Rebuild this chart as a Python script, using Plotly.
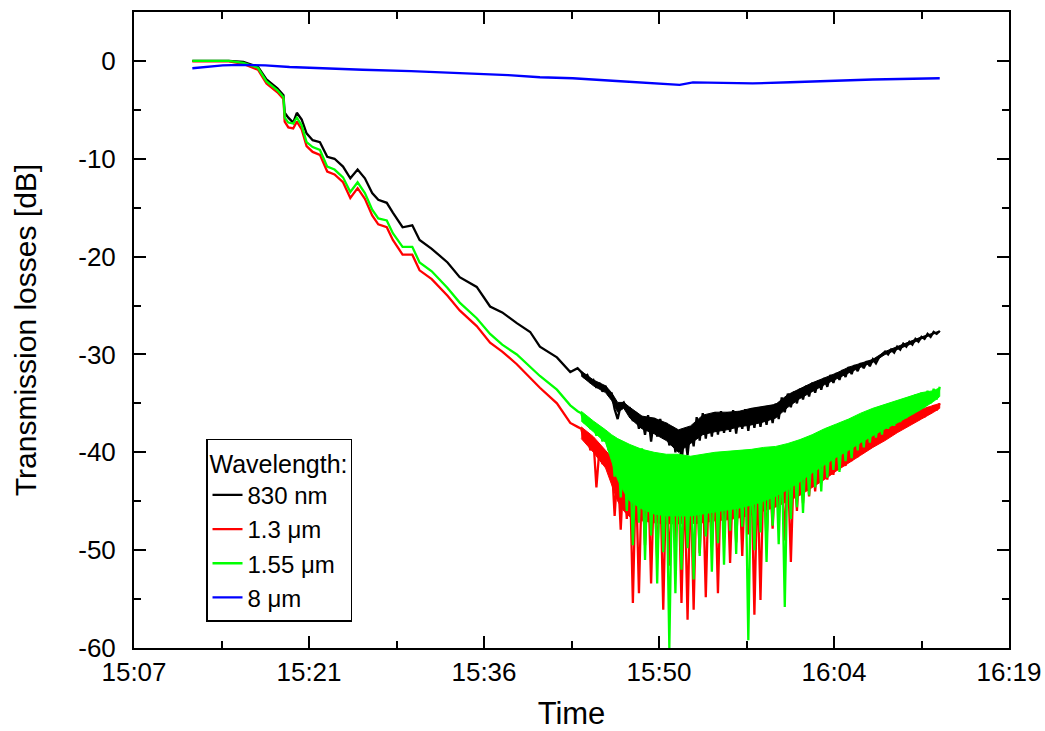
import plotly.graph_objects as go

# Time in minutes after 15:00
t_early = [12.0, 13.5, 15.0, 16.2, 17.4, 18.1, 19.0, 19.5, 19.6, 19.9, 20.3, 20.6, 21.0, 21.4,
           21.9, 22.5, 23.1, 23.7, 24.4, 25.0, 25.6, 26.2, 26.8, 27.3, 28.0, 28.5, 29.3, 30.1,
           30.7, 31.7, 33.0, 34.0, 35.4, 36.5, 37.5, 38.7, 39.8, 40.6, 42.0, 43.1, 43.7]

t_noisy = [44.0, 44.25, 44.5, 44.75, 45.0, 45.25, 45.5, 45.75, 46.0, 46.25, 46.5, 46.75,
           47.0, 47.25, 47.5, 47.75, 48.0, 48.25, 48.5, 48.75, 49.0, 49.25, 49.5, 49.75,
           50.0, 50.25, 50.5, 50.75, 51.0, 51.25, 51.5, 51.75, 52.0, 52.25, 52.5, 52.75,
           53.0, 53.25, 53.5, 53.75, 54.0, 54.25, 54.5, 54.75, 55.0, 55.25, 55.5, 55.75,
           56.0, 56.25, 56.5, 56.75, 57.0, 57.25, 57.5, 57.75, 58.0, 58.25, 58.5, 58.75,
           59.0, 59.25, 59.5, 59.75, 60.0, 60.25, 60.5, 60.75, 61.0, 61.25, 61.5, 61.75,
           62.0, 62.25, 62.5, 62.75, 63.0, 63.25, 63.5, 63.75, 64.0, 64.25, 64.5, 64.75,
           65.0, 65.25, 65.5, 65.75, 66.0, 66.25, 66.5, 66.75, 67.0, 67.25, 67.5, 67.75,
           68.0, 68.25, 68.5, 68.75, 69.0, 69.25, 69.5, 69.75, 70.0, 70.25, 70.5, 70.75,
           71.0, 71.25, 71.5, 71.75, 72.0, 72.25, 72.5, 72.75, 73.0, 73.25, 73.5]

# times of the noise-band envelopes
t_band = [44.0, 45.0, 46.0, 46.5, 47.0, 47.5, 48.0, 49.0, 50.0, 51.0, 52.0, 53.0, 54.0, 55.0,
          56.0, 57.0, 58.0, 59.0, 60.0, 61.0, 62.0, 63.0, 64.0, 65.0, 66.0, 67.0, 68.0, 69.0,
          70.0, 71.0, 72.0, 73.0, 73.5]

# 830 nm
black_early = [0.0, 0.0, 0.0, -0.1, -0.6, -1.9, -2.8, -3.5, -5.3, -5.8, -6.3, -5.3, -6.0, -7.4,
               -8.1, -8.3, -9.8, -10.0, -10.8, -12.0, -11.1, -12.0, -13.5, -14.2, -14.5, -15.5,
               -17.0, -16.8, -18.3, -19.2, -20.6, -22.1, -23.1, -25.1, -25.7, -26.8, -27.7,
               -29.2, -30.3, -31.8, -31.4]
black_noisy = [-31.8, -32.3, -32.1, -32.8, -32.6, -33.4, -32.9, -33.8, -33.2, -34.1, -34.0, -35.6,
               -36.6, -35.2, -34.9, -35.6, -35.5, -36.8, -35.9, -37.6, -36.4, -38.2, -36.2, -38.9,
               -36.5, -38.4, -36.6, -38.6, -37.0, -39.3, -37.4, -40.0, -37.9, -41.0, -38.0, -40.3,
               -37.4, -39.4, -36.4, -38.8, -36.0, -38.6, -36.1, -38.4, -35.9, -38.2, -35.8, -38.0,
               -35.9, -37.9, -35.7, -38.1, -35.8, -37.6, -35.6, -37.8, -35.5, -37.5, -35.4, -37.4,
               -35.3, -37.2, -35.2, -37.0, -35.0, -36.6, -34.4, -35.9, -34.0, -35.4, -33.8, -35.0,
               -33.5, -34.6, -33.2, -34.3, -32.9, -33.9, -32.7, -33.6, -32.4, -33.3, -32.1, -32.9,
               -31.9, -32.6, -31.6, -32.3, -31.3, -32.0, -31.1, -31.7, -30.9, -31.4, -30.7, -31.2,
               -30.5, -30.9, -30.3, -30.0, -29.7, -30.0, -29.5, -29.8, -29.2, -29.5, -28.9, -29.2,
               -28.7, -29.0, -28.4, -28.7, -28.2, -28.4, -27.9, -28.2, -27.7, -27.9, -27.6]
black_band_top = [-31.7, -32.6, -33.2, -33.9, -34.9, -34.9, -35.4, -36.3, -36.5, -37.0, -37.7,
                  -37.3, -36.2, -35.9, -35.9, -35.8, -35.5, -35.3, -35.1, -34.1, -33.5, -32.9,
                  -32.4, -31.9, -31.3, -30.9, -30.5, -29.7, -29.2, -28.7, -28.2, -27.8, -27.6]
black_band_bottom = [-32.2, -33.2, -33.9, -34.7, -35.9, -35.5, -36.5, -37.6, -38.1, -38.8, -40.0,
                     -39.1, -38.2, -37.9, -37.7, -37.4, -37.2, -36.9, -36.5, -35.4, -34.5, -33.8,
                     -33.1, -32.5, -31.9, -31.3, -30.8, -30.0, -29.5, -29.0, -28.4, -27.9, -27.7]

# 1.3 um
red_early = [-0.05, -0.05, -0.05, -0.3, -0.9, -2.3, -3.2, -3.9, -6.2, -6.8, -6.9, -6.2, -7.0, -8.7,
             -9.3, -9.6, -11.3, -11.6, -12.4, -14.0, -13.0, -14.1, -15.8, -16.7, -17.0, -18.3,
             -19.8, -19.8, -21.4, -22.3, -24.0, -25.5, -27.1, -28.8, -29.7, -31.0, -32.4, -33.4,
             -35.0, -37.0, -37.4]
red_noisy = [-37.6, -38.8, -38.0, -39.8, -38.6, -43.6, -39.6, -41.2, -40.2, -42.0, -40.8, -46.5,
             -41.5, -47.9, -41.6, -46.8, -41.8, -55.4, -42.0, -54.4, -42.2, -49.5, -42.0, -53.4,
             -42.4, -50.8, -42.6, -56.1, -42.5, -51.6, -42.8, -49.2, -42.6, -55.4, -42.8, -57.1,
             -42.5, -56.1, -42.7, -50.3, -42.4, -54.8, -42.6, -49.7, -42.3, -54.4, -42.5, -48.9,
             -42.2, -51.3, -42.4, -49.2, -42.1, -50.6, -42.3, -48.4, -42.0, -56.6, -42.2, -55.1,
             -41.9, -49.0, -41.7, -47.8, -41.6, -46.6, -41.4, -49.0, -41.2, -51.2, -41.0, -46.0,
             -40.6, -45.2, -40.3, -44.5, -40.0, -44.0, -39.7, -43.1, -39.4, -42.8, -39.1, -42.3,
             -38.8, -41.8, -38.5, -41.4, -38.3, -40.9, -38.0, -40.5, -37.7, -40.0, -37.5, -39.6,
             -37.2, -39.2, -37.0, -38.8, -36.8, -38.4, -36.6, -38.0, -36.4, -37.6, -36.2, -37.3,
             -36.0, -37.0, -35.8, -36.7, -35.6, -36.4, -35.4, -36.0, -35.2, -35.7, -35.0]
red_band_top = [-37.4, -38.4, -39.8, -40.5, -41.0, -41.3, -41.6, -42.0, -42.2, -42.4, -42.4,
                -42.4, -42.3, -42.2, -42.1, -42.0, -41.8, -41.6, -41.4, -41.0, -40.5, -39.9,
                -39.3, -38.8, -38.2, -37.7, -37.2, -36.8, -36.4, -36.0, -35.6, -35.2, -35.0]
red_band_bottom = [-38.6, -40.0, -41.6, -43.2, -45.0, -46.0, -46.6, -47.0, -47.2, -47.3, -47.3,
                   -47.3, -47.2, -47.0, -46.9, -46.7, -46.4, -46.0, -45.6, -45.0, -44.4, -43.6,
                   -42.8, -41.9, -41.1, -40.3, -39.5, -38.8, -38.0, -37.3, -36.6, -35.9, -35.5]

# 1.55 um
green_early = [0.0, 0.0, 0.0, -0.2, -0.7, -2.1, -3.0, -3.7, -5.8, -6.3, -6.4, -5.8, -6.6, -8.3,
               -8.8, -9.1, -10.8, -11.1, -11.9, -13.4, -12.4, -13.5, -15.2, -16.1, -16.3, -17.6,
               -19.0, -19.0, -20.6, -21.5, -23.2, -24.7, -26.3, -27.9, -29.0, -30.0, -31.3,
               -32.2, -33.6, -35.2, -35.8]
green_noisy = [-36.0, -37.0, -36.6, -37.6, -37.0, -38.3, -37.4, -38.9, -37.8, -39.8, -38.6, -42.5,
               -38.9, -44.6, -39.2, -46.0, -39.4, -49.5, -40.0, -47.2, -39.6, -51.0, -40.2, -48.5,
               -40.4, -53.4, -40.6, -50.2, -40.8, -60.0, -41.0, -54.4, -40.6, -52.0, -40.9, -49.8,
               -41.2, -53.0, -40.5, -50.6, -40.8, -48.6, -40.4, -52.2, -40.7, -49.3, -40.3, -51.5,
               -40.6, -48.0, -40.2, -50.4, -40.5, -47.6, -40.1, -59.2, -40.4, -50.0, -40.0, -48.2,
               -40.3, -51.2, -39.9, -47.5, -40.1, -49.4, -39.7, -55.8, -39.6, -46.8, -39.3, -45.6,
               -39.0, -46.2, -38.8, -44.4, -38.6, -43.6, -38.3, -44.0, -38.0, -42.6, -37.7, -41.8,
               -37.5, -42.0, -37.2, -40.9, -36.9, -40.6, -36.6, -39.8, -36.3, -39.5, -36.0, -39.0,
               -35.8, -38.5, -35.6, -38.2, -35.3, -37.6, -35.0, -37.3, -34.8, -36.9, -34.6, -36.5,
               -34.4, -36.1, -34.1, -35.7, -33.9, -35.4, -33.7, -35.0, -33.5, -34.6, -33.3]
green_band_top = [-35.8, -36.8, -37.7, -38.2, -38.6, -38.9, -39.2, -39.7, -40.0, -40.2, -40.2,
                  -40.4, -40.2, -40.0, -39.9, -39.8, -39.7, -39.5, -39.4, -39.1, -38.7, -38.2,
                  -37.6, -37.1, -36.6, -36.0, -35.5, -35.1, -34.7, -34.3, -33.9, -33.7, -33.4]
green_band_bottom = [-36.8, -37.9, -39.0, -40.8, -42.8, -44.0, -45.0, -45.8, -46.3, -46.5, -46.5,
                     -46.5, -46.3, -46.1, -45.9, -45.7, -45.4, -45.0, -44.5, -43.8, -43.0, -42.1,
                     -41.3, -40.5, -39.8, -39.0, -38.3, -37.6, -37.0, -36.3, -35.6, -34.8, -34.3]

# 8 um
t_blue = [12.0, 13.0, 14.5, 16.0, 18.0, 20.0, 23.0, 26.0, 30.0, 34.0, 38.0, 40.6, 43.3, 46.9,
          50.7, 52.1, 53.2, 58.1, 61.2, 64.2, 68.0, 73.5]
blue_vals = [-0.75, -0.6, -0.45, -0.4, -0.45, -0.62, -0.78, -0.9, -1.05, -1.25, -1.45, -1.67,
             -1.77, -2.05, -2.35, -2.45, -2.2, -2.3, -2.18, -2.05, -1.9, -1.77]

x_tickvals = [7.2, 21.6, 36.0, 50.4, 64.8, 79.2]
x_ticktext = ["15:07", "15:21", "15:36", "15:50", "16:04", "16:19"]
x_minor = [14.4, 28.8, 43.2, 57.6, 72.0]
y_tickvals = [0, -10, -20, -30, -40, -50, -60]
y_ticktext = ["0", "-10", "-20", "-30", "-40", "-50", "-60"]
y_minor = [-5, -15, -25, -35, -45, -55]

FONT = "Liberation Sans, Arial, sans-serif"

fig = go.Figure()
series = [
    ("830 nm", black_early + black_noisy, black_band_top, black_band_bottom, "#000000"),
    ("1.3 \u03bcm", red_early + red_noisy, red_band_top, red_band_bottom, "#ff0000"),
    ("1.55 \u03bcm", green_early + green_noisy, green_band_top, green_band_bottom, "#00ff00"),
]
for name, ys, top, bot, col in series:
    # dense (noisy) region of the measured trace
    fig.add_trace(go.Scatter(x=t_band + t_band[::-1], y=top + bot[::-1], mode="lines",
                             fill="toself", fillcolor=col, line=dict(color=col, width=1),
                             showlegend=False, hoverinfo="skip"))
    fig.add_trace(go.Scatter(x=t_early + t_noisy, y=ys, mode="lines", name=name,
                             line=dict(color=col, width=2.3)))
fig.add_trace(go.Scatter(x=t_blue, y=blue_vals, mode="lines", name="8 \u03bcm",
                         line=dict(color="#0000ff", width=2.3)))

axis_common = dict(showline=True, linecolor="black", linewidth=2, mirror="allticks",
                   ticks="inside", ticklen=12, tickwidth=2, tickcolor="black",
                   showgrid=False, zeroline=False, automargin=False,
                   tickfont=dict(family=FONT, size=26, color="black"))

fig.update_xaxes(range=[7.2, 79.2], tickmode="array", tickvals=x_tickvals, ticktext=x_ticktext,
                 minor=dict(ticks="inside", ticklen=7, tickwidth=2, tickcolor="black",
                            tickmode="array", tickvals=x_minor),
                 title=dict(text="Time", font=dict(family=FONT, size=31, color="black"), standoff=27),
                 ticklabelstandoff=0,
                 **axis_common)
fig.update_yaxes(range=[-60, 5], tickmode="array", tickvals=y_tickvals, ticktext=y_ticktext,
                 minor=dict(ticks="inside", ticklen=7, tickwidth=2, tickcolor="black",
                            tickmode="array", tickvals=y_minor),
                 title=dict(text="Transmission losses [dB]",
                            font=dict(family=FONT, size=30, color="black"), standoff=33),
                 ticklabelstandoff=11,
                 **axis_common)

fig.update_layout(
    width=1045, height=731,
    margin=dict(l=134, r=36, t=12, b=83),
    plot_bgcolor="white", paper_bgcolor="white",
    font=dict(family=FONT, color="black"),
    showlegend=True,
    legend=dict(x=0.0823, y=0.329, xanchor="left", yanchor="top",
                bordercolor="black", borderwidth=1.5, bgcolor="white",
                title=dict(text="Wavelength:", font=dict(family=FONT, size=25)),
                font=dict(family=FONT, size=24), tracegroupgap=0),
)

fig.write_html("out.html", config={"displayModeBar": False},
               post_script="document.body.style.margin='0px';")
